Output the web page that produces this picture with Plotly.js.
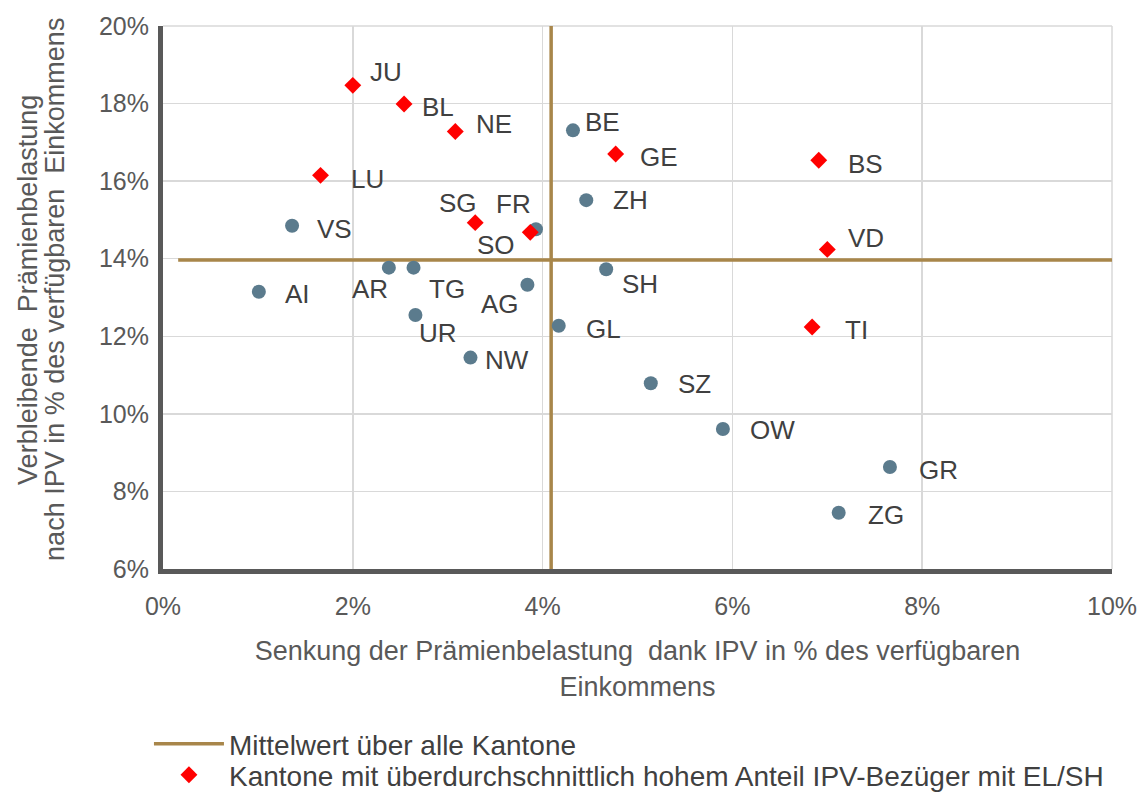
<!DOCTYPE html>
<html>
<head>
<meta charset="utf-8">
<script src="https://cdn.plot.ly/plotly-3.0.1.min.js"></script>
<style>
  html, body { margin: 0; padding: 0; background: #ffffff; }
  #chart { width: 1142px; height: 792px; }
</style>
</head>
<body>
<div id="chart"></div>
<script>
// ---- Data ----
const cantons = ['JU','BL','NE','BE','GE','BS','LU','ZH','VS','SG','FR','SO','VD','AI','AR','TG','SH','AG','UR','GL','TI','NW','SZ','OW','GR','ZG'];
// Senkung der Prämienbelastung dank IPV (% des verfügbaren Einkommens)
const reduction = [2.00,2.54,3.08,4.32,4.77,6.91,1.66,4.46,1.36,3.29,3.93,3.87,7.00,1.01,2.38,2.64,4.67,3.84,2.66,4.17,6.84,3.24,5.14,5.90,7.66,7.12];
// Verbleibende Prämienbelastung nach IPV (% des verfügbaren Einkommens)
const remaining = [18.47,17.99,17.28,17.31,16.70,16.54,16.15,15.51,14.85,14.93,14.76,14.68,14.24,13.15,13.77,13.77,13.73,13.33,12.55,12.27,12.24,11.45,10.79,9.61,8.63,7.45];
// 1 = Kanton mit überdurchschnittlich hohem Anteil IPV-Bezüger mit EL/SH
const highELSH = [1,1,1,0,1,1,1,0,0,1,0,1,1,0,0,0,0,0,0,0,1,0,0,0,0,0];
// Mittelwerte über alle Kantone
const meanReduction = 4.09;
const meanRemaining = 13.97;
const meanLineXStart = 0.16;
const xTickVals = [0,2,4,6,8,10];
const yTickVals = [6,8,10,12,14,16,18,20];
const yTitleLines = ['Verbleibende  Prämienbelastung', 'nach IPV in % des verfügbaren  Einkommens'];

// ---- Label placement (screen offsets, px) ----
const labelPlacement = {
  JU:['left',15,-13], BL:['left',16,3], NE:['left',19,-8], BE:['left',10,-8],
  GE:['left',22,3], BS:['left',27,4], LU:['left',28,4], ZH:['left',25,0],
  VS:['left',23,3], SG:['right',4,-20], FR:['right',-3,-25], SO:['right',-13,13],
  VD:['left',19,-11], AI:['left',24,2], AR:['right',1,21], TG:['left',13,21],
  SH:['left',14,15], AG:['right',-6,19], UR:['left',2,18], GL:['left',25,3],
  TI:['left',31,3], NW:['left',13,2], SZ:['left',25,1], OW:['left',25,1],
  GR:['left',27,3], ZG:['left',27,2]
};

const FONT = 'Liberation Sans, Arial, sans-serif';
const GOLD = '#a8864a';
const BLUE = '#5b7b8d';
const RED = '#ff0000';

const circX = [], circY = [], circT = [], diaX = [], diaY = [], diaT = [];
cantons.forEach((c, i) => {
  if (highELSH[i]) { diaX.push(reduction[i]); diaY.push(remaining[i]); diaT.push(c); }
  else { circX.push(reduction[i]); circY.push(remaining[i]); circT.push(c); }
});

const traces = [
  {
    type: 'scatter', mode: 'lines', name: 'Mittelwert über alle Kantone',
    x: [meanLineXStart, xTickVals[xTickVals.length-1]], y: [meanRemaining, meanRemaining],
    line: { color: GOLD, width: 3.5 }, legendgroup: 'mean', legend: 'legend', hoverinfo: 'skip'
  },
  {
    type: 'scatter', mode: 'lines', name: 'Mittelwert über alle Kantone',
    x: [meanReduction, meanReduction], y: [yTickVals[0], yTickVals[yTickVals.length-1]],
    line: { color: GOLD, width: 3.5 }, legendgroup: 'mean', showlegend: false, hoverinfo: 'skip'
  },
  {
    type: 'scatter', mode: 'markers', name: 'Kantone',
    x: circX, y: circY, text: circT, showlegend: false,
    marker: { symbol: 'circle', size: 14, color: BLUE }
  },
  {
    type: 'scatter', mode: 'markers', name: 'Kantone mit überdurchschnittlich hohem Anteil IPV-Bezüger mit EL/SH',
    x: diaX, y: diaY, text: diaT, legend: 'legend2',
    marker: { symbol: 'diamond', size: 13, color: RED }
  }
];

const annotations = cantons.map((c, i) => {
  const p = labelPlacement[c];
  return {
    x: reduction[i], y: remaining[i], xref: 'x', yref: 'y',
    text: c, showarrow: false, xanchor: p[0], yanchor: 'middle',
    xshift: p[1], yshift: -p[2],
    font: { family: FONT, size: 26, color: '#404040' }
  };
});
// y-axis title (two lines, tight line spacing as in the reference)
yTitleLines.forEach((t, k) => {
  annotations.push({
    xref: 'paper', yref: 'paper', x: 0, y: 0.514, xanchor: 'center', yanchor: 'middle',
    xshift: k === 0 ? -135 : -108, textangle: -90, showarrow: false, text: t,
    font: { family: FONT, size: 27, color: '#595959' }
  });
});

const legendBase = {
  xanchor: 'left', yanchor: 'top', itemwidth: 70,
  font: { family: FONT, size: 28, color: '#404040' },
  bgcolor: 'rgba(0,0,0,0)', tracegroupgap: 0
};

const layout = {
  width: 1142, height: 792,
  paper_bgcolor: '#ffffff', plot_bgcolor: '#ffffff',
  margin: { l: 163, r: 30, t: 26, b: 223, autoexpand: false },
  showlegend: true,
  legend: Object.assign({}, legendBase, { x: -0.0148, y: -0.2762 }),
  legend2: Object.assign({}, legendBase, { x: -0.0148, y: -0.3333 }),
  xaxis: {
    range: [0, 10], tickvals: xTickVals, ticktext: xTickVals.map(v => v + '%'),
    showgrid: true, gridcolor: '#d9d9d9', gridwidth: 1.5,
    zeroline: false, showline: true, linecolor: '#595959', linewidth: 5,
    ticks: 'outside', ticklen: 11, tickcolor: 'rgba(0,0,0,0)',
    tickfont: { family: FONT, size: 25, color: '#595959' },
    title: {
      text: 'Senkung der Prämienbelastung  dank IPV in % des verfügbaren<br>Einkommens',
      font: { family: FONT, size: 27, color: '#595959' }, standoff: 24
    },
    fixedrange: true
  },
  yaxis: {
    range: [6, 20], tickvals: yTickVals, ticktext: yTickVals.map(v => v + '%'),
    showgrid: true, gridcolor: '#d9d9d9', gridwidth: 1.5,
    zeroline: false, showline: true, linecolor: '#595959', linewidth: 5,
    ticks: 'outside', ticklen: 4, tickcolor: 'rgba(0,0,0,0)',
    tickfont: { family: FONT, size: 25, color: '#595959' },
    fixedrange: true
  },
  annotations: annotations,
  shapes: [
    { type: 'line', xref: 'paper', yref: 'paper', x0: 1, x1: 1, y0: 0, y1: 1,
      line: { color: '#d9d9d9', width: 1.5 }, layer: 'below' },
    { type: 'line', xref: 'paper', yref: 'paper', x0: 0, x1: 1, y0: 1, y1: 1,
      line: { color: '#d9d9d9', width: 1.5 }, layer: 'below' }
  ]
};

Plotly.newPlot('chart', traces, layout, { displayModeBar: false, staticPlot: true });
</script>
</body>
</html>
